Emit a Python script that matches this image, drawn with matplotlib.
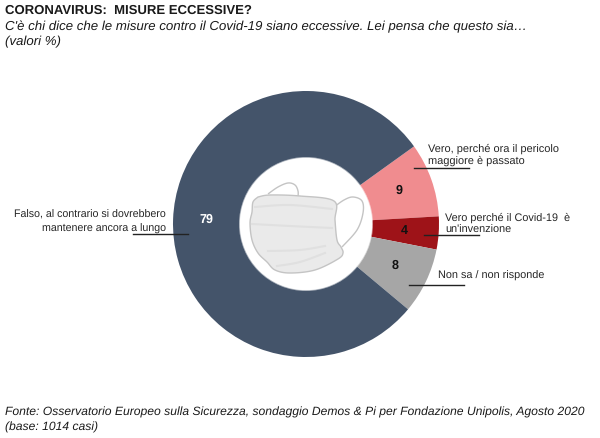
import numpy as np
import matplotlib
matplotlib.use('Agg')
import matplotlib.pyplot as plt
from matplotlib.patches import Polygon, Circle

plt.rcParams['font.family'] = ['Liberation Sans', 'DejaVu Sans']
plt.rcParams['text.hinting'] = 'no_hinting'

# data
categories = ['Vero, perché ora il pericolo\nmaggiore è passato',
              'Vero perché il Covid-19  è\nun\'invenzione',
              'Non sa / non risponde',
              'Falso, al contrario si dovrebbero\nmantenere ancora a lungo']
values = [9, 4, 8, 79]
colors = ['#F08C8F', '#9E1318', '#A6A6A6', '#44546A']

title = 'CORONAVIRUS:  MISURE ECCESSIVE?'
subtitle = "C'è chi dice che le misure contro il Covid-19 siano eccessive. Lei pensa che questo sia…\n(valori %)"
source = 'Fonte: Osservatorio Europeo sulla Sicurezza, sondaggio Demos & Pi per Fondazione Unipolis, Agosto 2020\n(base: 1014 casi)'

W, H = 600, 438
CX, CY, R, R_IN = 306, 224, 133, 66


def Y(py):
    return H - py


def curve(points, n=12):
    # Catmull-Rom through the given pixel points
    p = np.array([(x, Y(y)) for x, y in points], dtype=float)
    p = np.vstack([p[0], p, p[-1]])
    out = []
    for i in range(1, len(p) - 2):
        for t in np.linspace(0, 1, n, endpoint=False):
            a = 2 * p[i] + (p[i + 1] - p[i - 1]) * t
            b = (2 * p[i - 1] - 5 * p[i] + 4 * p[i + 1] - p[i + 2]) * t ** 2
            c = (3 * p[i] - p[i - 1] - 3 * p[i + 1] + p[i + 2]) * t ** 3
            out.append(0.5 * (a + b + c))
    out.append(p[-1])
    return np.array(out)


fig = plt.figure(figsize=(6, 4.38), dpi=100, facecolor='white')
ax = fig.add_axes([0, 0, 1, 1])

ax.pie(values, colors=colors, startangle=35.7, counterclock=False,
       center=(CX, Y(CY)), radius=R, frame=False,
       wedgeprops=dict(width=R - R_IN, linewidth=0))
ax.set_aspect('auto')
ax.set_xlim(0, W)
ax.set_ylim(0, H)
ax.axis('off')

# soft white hole edge
ax.add_patch(Circle((CX, Y(CY)), R_IN + 1, fc='white', ec='none', alpha=0.6, zorder=3))
ax.add_patch(Circle((CX, Y(CY)), R_IN, fc='white', ec='none', zorder=3))

# mask drawing
mask_edge = '#C4C4C4'
ear_left = [(268, 194), (278, 187), (288, 183), (295, 185), (298, 191), (298, 197)]
ear_right = [(334, 207), (344, 200), (353, 197), (362, 201), (363, 213), (357, 230), (342, 247)]
body = [(258, 197), (253, 202), (252, 212), (250, 223), (252, 240), (258, 253), (267, 262),
        (275, 270), (290, 273), (315, 270), (338, 259), (343, 253), (341, 247), (337, 240),
        (335, 220), (334, 201), (300, 196), (270, 195), (258, 197)]
ax.add_patch(Polygon(curve(ear_left), closed=False, fc='white', ec=mask_edge, lw=1, zorder=4))
ax.add_patch(Polygon(curve(ear_right), closed=False, fc='white', ec=mask_edge, lw=1, zorder=4))
ax.add_patch(Polygon(curve(body), closed=True, fc='#EAEAEA', ec=mask_edge, lw=1, zorder=5))
for pts in ([(255, 207), (290, 205), (332, 209)],
            [(252, 224), (290, 226), (332, 228)],
            [(268, 251), (300, 250), (325, 246)],
            [(277, 266), (300, 262), (325, 253)]):
    line = curve(pts)
    ax.plot(line[:, 0], line[:, 1], color='#E0E0E0', lw=1.5, zorder=6)

# value labels
for val, x, y, col in [(79, 206, 220, 'white'), (9, 399, 191, '#111111'),
                       (4, 404, 231, '#111111'), (8, 395, 266, '#111111')]:
    ax.text(x, Y(y), str(val), ha='center', va='center', fontsize=9, fontweight='bold',
            color=col, zorder=7)

# category labels and their leader lines
text_col = '#262626'
ax.text(428, Y(155), categories[0], fontsize=7.9, color=text_col, va='center', ha='left',
        linespacing=1.27, zorder=7)
ax.text(445, Y(224), categories[1], fontsize=7.85, color=text_col, va='center', ha='left',
        linespacing=1.27, zorder=7)
ax.text(438, Y(276), categories[2], fontsize=7.85, color=text_col, va='center', ha='left', zorder=7)
ax.text(166, Y(222), categories[3], fontsize=7.7, color=text_col, va='center', ha='right',
        multialignment='right', linespacing=1.45, zorder=7)

for x0, x1, y in [(414, 469, 168), (424, 479, 235), (409, 464, 285), (133, 188, 234)]:
    ax.plot([x0, x1], [Y(y), Y(y)], color='#222222', lw=1, zorder=8)

# header and footer
sub_lines = subtitle.split('\n')
src_lines = source.split('\n')
ax.text(5, Y(11), title, fontsize=9.45, fontweight='bold', color='#1a1a1a', va='center', ha='left')
ax.text(5, Y(27), sub_lines[0], fontsize=9.55, style='italic', color='#1a1a1a', va='center', ha='left')
ax.text(5, Y(42), sub_lines[1], fontsize=9.55, style='italic', color='#1a1a1a', va='center', ha='left')
ax.text(5, Y(412), src_lines[0], fontsize=8.7, style='italic', color='#1a1a1a', va='center', ha='left')
ax.text(5, Y(427), src_lines[1], fontsize=8.7, style='italic', color='#1a1a1a', va='center', ha='left')

fig.savefig('out.png', dpi=100)
